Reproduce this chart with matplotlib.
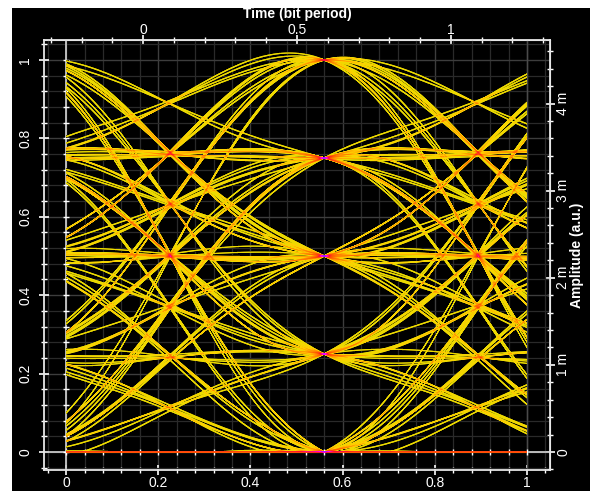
import numpy as np
import matplotlib
matplotlib.use("Agg")
import matplotlib.pyplot as plt
from matplotlib.colors import LinearSegmentedColormap, LogNorm
from matplotlib.patches import Rectangle
from matplotlib.ticker import MultipleLocator, FixedLocator, FixedFormatter

plt.rcParams["font.family"] = ["Liberation Sans", "DejaVu Sans"]

# PAM-5 symbol stream (level index 0..4) over the recorded window
SYMBOLS = [0, 0, 0, 0, 2, 3, 3, 3, 1, 4, 2, 0, 3, 3, 1, 2, 2, 2, 4, 0,
           1, 3, 2, 2, 4, 1, 1, 1, 0, 0, 3, 4, 2, 1, 1, 3, 0, 2, 4, 3,
           3, 3, 2, 0, 0, 0, 1, 4, 1, 2, 2, 2, 3, 0, 4, 2, 2, 1, 3, 3,
           4, 0, 0, 2, 1, 1, 3, 3, 4, 1, 0, 2, 4, 2, 3, 3, 3, 1, 1, 0,
           3, 2, 2, 4, 0, 0, 0, 0, 1, 2, 3, 4, 3, 2, 1, 0, 2, 2, 2, 3,
           1, 4, 0, 3, 3, 1, 2, 0, 0, 4, 2, 3, 3, 1, 0, 1, 1, 4, 2, 2,
           0, 0, 0, 0, 3, 2, 1, 1, 0, 0, 0, 0]
LEVELS = [0.0, 0.25, 0.5, 0.75, 1.0]

BIT_PERIOD = 0.668   # one bit in normalised time
SAMPLE_T = 0.56      # decision instant
TOP_ZERO = 0.167     # normalised time at bit-period 0
AMP_SCALE = 4.5e-3   # amplitude units per normalised unit
ROLLOFF = 0.93

X_TICKS = [0, 0.2, 0.4, 0.6, 0.8, 1]
X_LABELS = ["0", "0.2", "0.4", "0.6", "0.8", "1"]
Y_TICKS = [0, 0.2, 0.4, 0.6, 0.8, 1]
Y_LABELS = ["0", "0.2", "0.4", "0.6", "0.8", "1"]
TOP_TICKS = [0, 0.5, 1]
TOP_LABELS = ["0", "0.5", "1"]
RIGHT_TICKS = [0, 1e-3, 2e-3, 3e-3, 4e-3]
RIGHT_LABELS = ["0", "1 m", "2 m", "3 m", "4 m"]

XLIM = (-0.048, 1.05)
YLIM = (-0.046, 1.051)


def rc_pulse(u, beta):
    u = np.asarray(u, float)
    den = 1 - (2 * beta * u) ** 2
    sing = np.abs(den) < 1e-9
    out = np.sinc(u) * np.cos(np.pi * beta * u) / np.where(sing, 1, den)
    return np.where(sing, np.pi / 4 * np.sinc(1 / (2 * beta)), out)


# rasterise every trace into a hit-count map (persistence display)
nx = 461
ny = int(round((YLIM[1] - YLIM[0]) * 392))
xe = np.linspace(0, 1, nx + 1)
yc = YLIM[0] + (np.arange(ny) + 0.5) * (YLIM[1] - YLIM[0]) / ny
px = (YLIM[1] - YLIM[0]) / ny
amps = np.array([LEVELS[s] for s in SYMBOLS])
acc = np.zeros((ny, nx))
for k in range(6, len(amps) - 6):
    y = np.zeros_like(xe)
    for j in range(k - 6, k + 7):
        y += amps[j] * rc_pulse((xe - SAMPLE_T - (j - k) * BIT_PERIOD) / BIT_PERIOD, ROLLOFF)
    y = np.maximum(y, 0)   # detected power cannot go negative
    lo = np.minimum(y[:-1], y[1:])
    hi = np.maximum(y[:-1], y[1:])
    d = np.maximum(np.maximum(lo[None, :] - yc[:, None], yc[:, None] - hi[None, :]), 0) / px
    acc += np.clip(1.1 - d, 0, 1)

vmin, vmax = 0.2, 30
stops = [(0.2, "#302a00"), (0.5, "#a09000"), (0.9, "#eadc00"), (1.8, "#ffd000"),
         (3.0, "#ff9800"), (6.0, "#ff5a00"), (10.0, "#ff1030"), (16.0, "#ff00ff"),
         (30.0, "#2030ff")]
pos = [np.log(v / vmin) / np.log(vmax / vmin) for v, _ in stops]
cmap = LinearSegmentedColormap.from_list("persist", list(zip(pos, [c for _, c in stops])))

fig = plt.figure(figsize=(5.92, 4.91), dpi=100)
fig.patches.append(Rectangle((12 / 592, 0), 578 / 592, 483 / 491, transform=fig.transFigure,
                             facecolor="black", edgecolor="none", zorder=-10))
ax = fig.add_axes([44 / 592, 21 / 491, 506 / 592, 430 / 491])
ax.set_facecolor("black")

ax.imshow(np.ma.masked_less(acc, 0.1), cmap=cmap, norm=LogNorm(vmin, vmax),
          extent=[0, 1, YLIM[0], YLIM[1]], origin="lower", aspect="auto",
          interpolation="nearest", zorder=3)

ax.set_xlim(*XLIM)
ax.set_ylim(*YLIM)
ax.set_axisbelow(True)

# grid and reference lines
ax.xaxis.set_minor_locator(MultipleLocator(0.04))
ax.yaxis.set_minor_locator(MultipleLocator(0.04))
ax.grid(which="minor", color="#2a2a2a", lw=0.9)
ax.grid(which="major", color="#3d3d3d", lw=1.0)
ax.axvline(0, color="#c8c8c8", lw=1.3, zorder=2)
ax.axhline(0, color="#c8c8c8", lw=1.3, zorder=2)
ax.axvline(1, color="#4a4a4a", lw=1.0, zorder=2)
mticks = np.arange(0, 1.0001, 0.04)
ax.plot(np.zeros_like(mticks), mticks, ls="none", marker="_", ms=5, color="white", mew=1, zorder=2)
ax.plot(mticks, np.zeros_like(mticks), ls="none", marker="|", ms=5, color="white", mew=1, zorder=2)

for s in ax.spines.values():
    s.set_color("#e6e6e6")
    s.set_linewidth(1.3)

ax.set_xticks(X_TICKS)
ax.set_xticklabels(X_LABELS)
ax.set_yticks(Y_TICKS)
ax.set_yticklabels(Y_LABELS, rotation=90, va="center")
ax.tick_params(which="both", direction="inout", colors="white", labelsize=10)
ax.tick_params(which="major", length=7, width=1.2)
ax.tick_params(which="minor", length=4, width=1)
ax.tick_params(axis="x", pad=1)
ax.tick_params(axis="y", pad=5)

# bit-period axis on top
top = ax.secondary_xaxis("top", functions=(lambda b: (b - TOP_ZERO) / BIT_PERIOD,
                                           lambda t: t * BIT_PERIOD + TOP_ZERO))
top.xaxis.set_major_locator(FixedLocator(TOP_TICKS))
top.xaxis.set_major_formatter(FixedFormatter(TOP_LABELS))
top.xaxis.set_minor_locator(MultipleLocator(0.1))
top.tick_params(which="both", direction="inout", colors="white", labelsize=10)
top.tick_params(which="major", length=7, width=1.2, pad=-1)
top.tick_params(which="minor", length=4, width=1)
top.spines["top"].set_color("#e6e6e6")
fig.text(297 / 592, 1 - 14 / 491, "Time (bit period)", color="white", fontweight="bold",
         fontsize=10, ha="center", va="center")

# absolute amplitude on the right
right = ax.secondary_yaxis("right", functions=(lambda y: y * AMP_SCALE,
                                               lambda v: v / AMP_SCALE))
right.yaxis.set_major_locator(FixedLocator(RIGHT_TICKS))
right.yaxis.set_major_formatter(FixedFormatter(RIGHT_LABELS))
right.yaxis.set_minor_locator(MultipleLocator(0.2e-3))
right.tick_params(which="both", direction="inout", colors="white", labelsize=10)
right.tick_params(which="major", length=7, width=1.2, pad=1)
right.tick_params(which="minor", length=4, width=1)
for lab in right.get_yticklabels():
    lab.set_rotation(90)
    lab.set_va("center")
right.spines["right"].set_color("#e6e6e6")
right.set_ylabel("Amplitude (a.u.)", color="white", fontweight="bold", fontsize=10, labelpad=0)

fig.savefig("out.png", dpi=100, facecolor="white")
